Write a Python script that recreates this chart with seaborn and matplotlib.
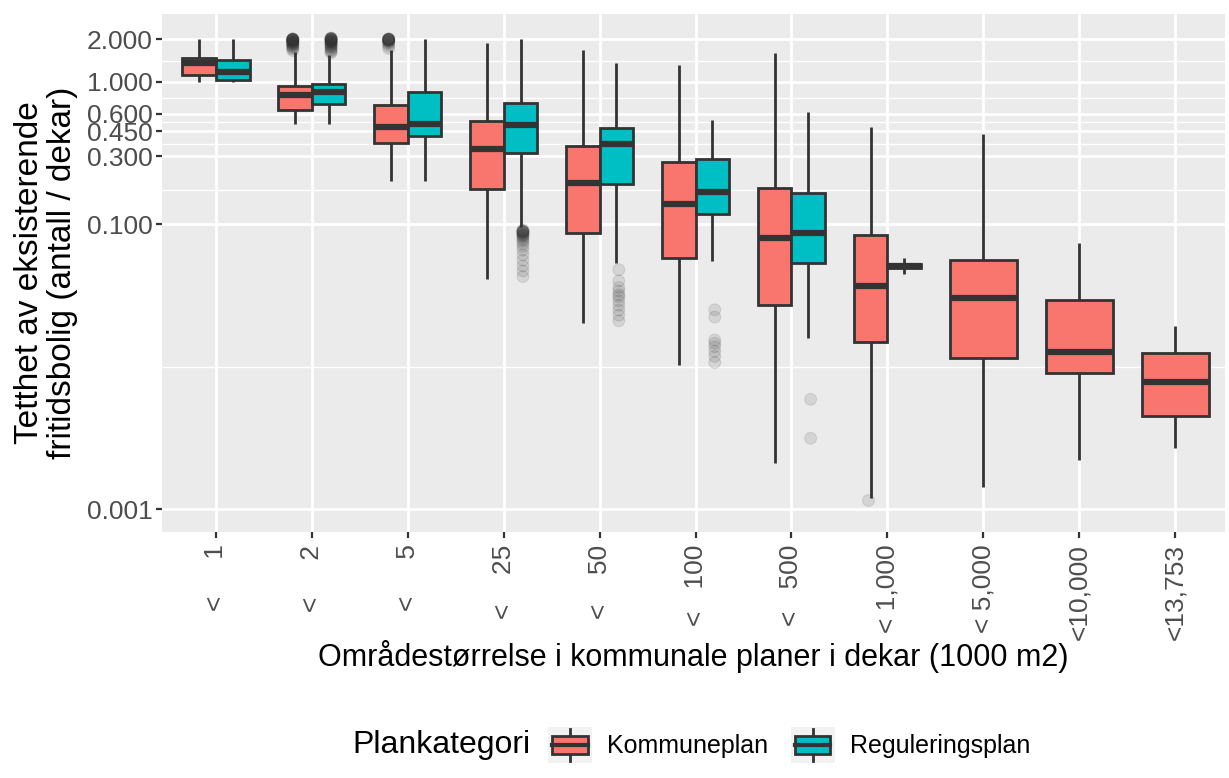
import numpy as np
import pandas as pd
import matplotlib
matplotlib.use("Agg")
import matplotlib.pyplot as plt
from matplotlib.legend_handler import HandlerBase
from matplotlib.patches import Rectangle, Patch
from matplotlib.lines import Line2D
import matplotlib.ticker as mticker
import seaborn as sns

# Area classes (x axis) and plan categories
sizes = ["<     1", "<     2", "<     5", "<    25", "<    50", "<   100",
         "<   500", "< 1,000", "< 5,000", "<10,000", "<13,753"]
plans = ["Kommuneplan", "Reguleringsplan"]

# Box statistics: whisker low, q1, median, q3, whisker high
komm_lo = [1.00, 0.506, 0.202, 0.0411, 0.0204, 0.0103, 0.00212, 0.0012, 0.00144, 0.00221, 0.00267]
komm_q1 = [1.11, 0.635, 0.371, 0.176, 0.0873, 0.0577, 0.0271, 0.0150, 0.0116, 0.0090, 0.00453]
komm_med = [1.36, 0.810, 0.485, 0.338, 0.196, 0.139, 0.0801, 0.0370, 0.0302, 0.0126, 0.00777]
komm_q3 = [1.47, 0.936, 0.689, 0.531, 0.355, 0.275, 0.181, 0.0837, 0.0561, 0.0294, 0.0124]
komm_hi = [2.00, 1.62, 1.67, 1.87, 1.67, 1.31, 1.59, 0.480, 0.431, 0.0743, 0.0193]

regu_lo = [1.00, 0.506, 0.202, 0.096, 0.0537, 0.0555, 0.0160, 0.045]
regu_q1 = [1.04, 0.700, 0.417, 0.315, 0.191, 0.118, 0.0537, 0.049]
regu_med = [1.18, 0.854, 0.506, 0.498, 0.366, 0.169, 0.0865, 0.051]
regu_q3 = [1.42, 0.967, 0.854, 0.707, 0.472, 0.287, 0.167, 0.053]
regu_hi = [2.00, 1.55, 2.00, 2.00, 1.36, 0.540, 0.618, 0.058]

# Outliers, one list per box
komm_out_2 = [1.66, 1.70, 1.73, 1.76, 1.78, 1.80, 1.82, 1.84, 1.85, 1.87, 1.88, 1.90,
              1.91, 1.92, 1.93, 1.94, 1.95, 1.96, 1.97, 1.97, 1.98, 1.98, 1.99, 1.99,
              2.00, 2.00, 2.00, 2.00]
komm_out_5 = [1.72, 1.78, 1.84, 1.87, 1.90, 1.92, 1.94, 1.95, 1.96, 1.97, 1.98, 1.98,
              1.99, 1.99, 2.00, 2.00, 2.00, 2.00]
komm_out_1000 = [0.00115]
regu_out_2 = [1.60, 1.63, 1.66, 1.69, 1.72, 1.75, 1.77, 1.79, 1.81, 1.83, 1.85, 1.87,
              1.88, 1.90, 1.91, 1.92, 1.93, 1.94, 1.95, 1.96, 1.97, 1.98, 1.99, 2.00,
              2.00, 2.01, 2.01, 2.02, 2.03, 2.03]
regu_out_25 = [0.043, 0.047, 0.051, 0.056, 0.061, 0.066, 0.070, 0.073, 0.076, 0.078,
               0.080, 0.082, 0.083, 0.084, 0.085, 0.086, 0.087, 0.088, 0.088, 0.089,
               0.089, 0.090, 0.090, 0.091]
regu_out_50 = [0.048, 0.040, 0.036, 0.034, 0.032, 0.031, 0.029, 0.027, 0.025, 0.023, 0.021]
regu_out_100 = [0.0251, 0.0223, 0.0154, 0.0146, 0.0138, 0.0128, 0.0118, 0.0107]
regu_out_500 = [0.0059, 0.00314]

y_breaks = [0.001, 0.1, 0.3, 0.45, 0.6, 1.0, 2.0]

# long table: five values per box reproduce its quartiles and whisker ends
rows = []
for i, s in enumerate(sizes):
    for v in (komm_lo[i], komm_q1[i], komm_med[i], komm_q3[i], komm_hi[i]):
        rows.append((s, plans[0], v))
for i, s in enumerate(sizes[:len(regu_lo)]):
    for v in (regu_lo[i], regu_q1[i], regu_med[i], regu_q3[i], regu_hi[i]):
        rows.append((s, plans[1], v))
df = pd.DataFrame(rows, columns=["size", "plan", "density"])
paired = df[df["size"].isin(sizes[:8])]
single = df[df["size"].isin(sizes[8:])]

out_rows = []
for s, p, vals in [(sizes[1], plans[0], komm_out_2), (sizes[2], plans[0], komm_out_5),
                   (sizes[7], plans[0], komm_out_1000), (sizes[1], plans[1], regu_out_2),
                   (sizes[3], plans[1], regu_out_25), (sizes[4], plans[1], regu_out_50),
                   (sizes[5], plans[1], regu_out_100), (sizes[6], plans[1], regu_out_500)]:
    out_rows += [(s, p, v) for v in vals]
out = pd.DataFrame(out_rows, columns=["size", "plan", "density"])

colors = {"Kommuneplan": "#F8766D", "Reguleringsplan": "#00BFC4"}
dark = "#333333"

plt.rcParams["font.family"] = ["Liberation Sans", "DejaVu Sans"]

fig = plt.figure(figsize=(12.29, 7.78), dpi=100)
ax = fig.add_axes([162 / 1229, 1 - 532 / 778, 1063 / 1229, 518 / 778])
ax.set_facecolor("#EBEBEB")
ax.set_yscale("log")

box_kw = dict(x="size", y="density", hue="plan", order=sizes, hue_order=plans,
              palette=colors, saturation=1, width=0.7, whis=(0, 100),
              showcaps=False, showfliers=False, linecolor=dark, linewidth=2,
              medianprops={"linewidth": 4.5}, legend=False, ax=ax)
sns.boxplot(data=paired, dodge=True, **box_kw)
sns.boxplot(data=single, dodge=False, **box_kw)

sns.stripplot(data=out, x="size", y="density", hue="plan", order=sizes,
              hue_order=plans, dodge=True, jitter=False,
              palette={p: dark for p in plans}, alpha=0.12, size=8.5,
              linewidth=0.8, edgecolor=dark, legend=False, ax=ax)

# axes styling, ggplot look
ax.set_xlim(-0.563, 10.52)
ax.set_ylim(0.00069, 3.0)
ax.set_yticks(y_breaks)
ax.set_yticklabels([f"{b:.3f}" for b in y_breaks])
ax.set_yticks(np.sqrt(np.array(y_breaks[:-1]) * np.array(y_breaks[1:])), minor=True)
ax.yaxis.set_minor_formatter(mticker.NullFormatter())
ax.grid(True, which="major", color="white", linewidth=2.0)
ax.grid(True, which="minor", axis="y", color="white", linewidth=1.0)
ax.set_axisbelow(True)
for sp in ax.spines.values():
    sp.set_visible(False)
ax.tick_params(axis="both", which="major", length=4, width=1.6, color=dark,
               labelcolor="#4D4D4D", labelsize=19, pad=3)
ax.tick_params(axis="x", which="major", pad=5)
ax.tick_params(axis="y", which="minor", length=0)
ax.tick_params(axis="x", labelrotation=90)

ax.set_xlabel("Områdestørrelse i kommunale planer i dekar (1000 m2)", fontsize=22)
ax.xaxis.set_label_coords(0.5, (532 - 640) / 518)
ax.set_ylabel("Tetthet av eksisterende\nfritidsbolig (antall / dekar)", fontsize=24,
              linespacing=1.1)
ax.yaxis.set_label_coords((78 - 162) / 1063, 0.5)


class BoxKey(HandlerBase):
    def create_artists(self, legend, orig_handle, xdescent, ydescent, width,
                       height, fontsize, trans):
        x0, y0 = -xdescent, -ydescent
        fill = orig_handle.get_facecolor()
        bg = Rectangle((x0, y0), width, height, facecolor="#F2F2F2",
                       edgecolor="none", transform=trans)
        whisk = Line2D([x0 + width / 2] * 2, [y0 + 0.06 * height, y0 + 0.94 * height],
                       color=dark, lw=2, transform=trans)
        box = Rectangle((x0 + 0.1 * width, y0 + 0.24 * height), 0.8 * width,
                        0.52 * height, facecolor=fill, edgecolor=dark, lw=2,
                        transform=trans)
        med = Line2D([x0 + 0.1 * width, x0 + 0.9 * width], [y0 + height / 2] * 2,
                     color=dark, lw=3, transform=trans)
        return [bg, whisk, box, med]


handles = [Patch(facecolor=colors[p]) for p in plans]
fig.legend(handles, plans, handler_map={Patch: BoxKey()}, loc="center left",
           bbox_to_anchor=(548 / 1229, 1 - 745 / 778), ncol=2, frameon=False,
           fontsize=18, handlelength=1.76, handleheight=1.84, handletextpad=0.6,
           columnspacing=0.9, borderpad=0, borderaxespad=0)
fig.text(352 / 1229, 1 - 745 / 778, "Plankategori", fontsize=23, ha="left",
         va="center")

fig.savefig("out.png", dpi=100)
